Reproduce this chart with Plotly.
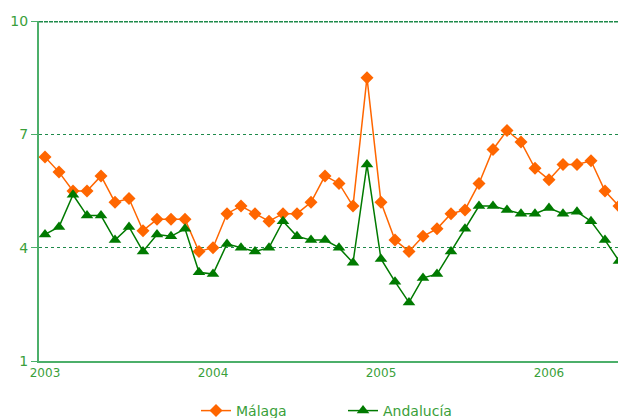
import plotly.graph_objects as go

months = list(range(42))  # Jan 2003 .. Jun 2006
year_labels = ["2003", "2004", "2005", "2006"]
year_ticks = [0, 12, 24, 36]

malaga = [6.4, 6.0, 5.5, 5.5, 5.9, 5.2, 5.3, 4.45, 4.75, 4.75, 4.75, 3.9,
          4.0, 4.9, 5.1, 4.9, 4.7, 4.9, 4.9, 5.2, 5.9, 5.7, 5.1, 8.5,
          5.2, 4.2, 3.9, 4.3, 4.5, 4.9, 5.0, 5.7, 6.6, 7.1, 6.8, 6.1,
          5.8, 6.2, 6.2, 6.3, 5.5, 5.1]
andalucia = [4.35, 4.55, 5.4, 4.85, 4.85, 4.2, 4.55, 3.9, 4.35, 4.3, 4.5, 3.35,
             3.3, 4.1, 4.0, 3.9, 4.0, 4.7, 4.3, 4.2, 4.2, 4.0, 3.6, 6.2,
             3.7, 3.1, 2.55, 3.2, 3.3, 3.9, 4.5, 5.1, 5.1, 5.0, 4.9, 4.9,
             5.05, 4.9, 4.95, 4.7, 4.2, 3.65]

ORANGE = "#FF6600"
GREEN = "#007A00"
TEXT = "#3A9F3A"
AXIS = "#4CAF6A"
GRID = "#1E8A4A"

fig = go.Figure()
fig.add_trace(go.Scatter(x=months, y=malaga, name="Málaga", mode="lines+markers",
                         line=dict(color=ORANGE, width=1.5),
                         marker=dict(symbol="diamond", size=10, color=ORANGE)))
fig.add_trace(go.Scatter(x=months, y=andalucia, name="Andalucía", mode="lines+markers",
                         line=dict(color=GREEN, width=1.5),
                         marker=dict(symbol="triangle-up", size=11, color=GREEN)))

fig.add_shape(type="line", xref="paper", yref="paper", x0=0, x1=1, y0=0.998, y1=0.998,
              line=dict(color=GRID, width=1.5, dash="4px,1px"), layer="above")

fig.update_layout(
    width=618, height=418,
    margin=dict(l=39, r=0, t=21, b=57, autoexpand=False),
    paper_bgcolor="white", plot_bgcolor="white",
    font=dict(family="DejaVu Sans", color=TEXT, size=12),
    showlegend=True,
    legend=dict(orientation="h", x=0.2712, xanchor="left", y=-0.1, yanchor="top",
                font=dict(size=14, color=TEXT), itemwidth=30, tracegroupgap=0,
                entrywidthmode="pixels", entrywidth=102),
    xaxis=dict(range=[-0.4286, 40.93], tickvals=year_ticks, ticktext=year_labels,
               showgrid=False, zeroline=False, showline=True, linecolor=AXIS, linewidth=2,
               ticks="", tickfont=dict(size=12, color=TEXT)),
    yaxis=dict(range=[1, 10], tickvals=[1, 4, 7, 10], showgrid=True,
               gridcolor=GRID, griddash="3px,3px", gridwidth=1,
               zeroline=False, showline=True, linecolor=AXIS, linewidth=2,
               ticks="outside", ticklen=6, tickcolor=AXIS,
               tickfont=dict(size=14, color=TEXT)),
)

fig.write_html("out.html", config={"displayModeBar": False},
               post_script="document.body.style.margin='0';document.body.style.overflow='hidden';")
